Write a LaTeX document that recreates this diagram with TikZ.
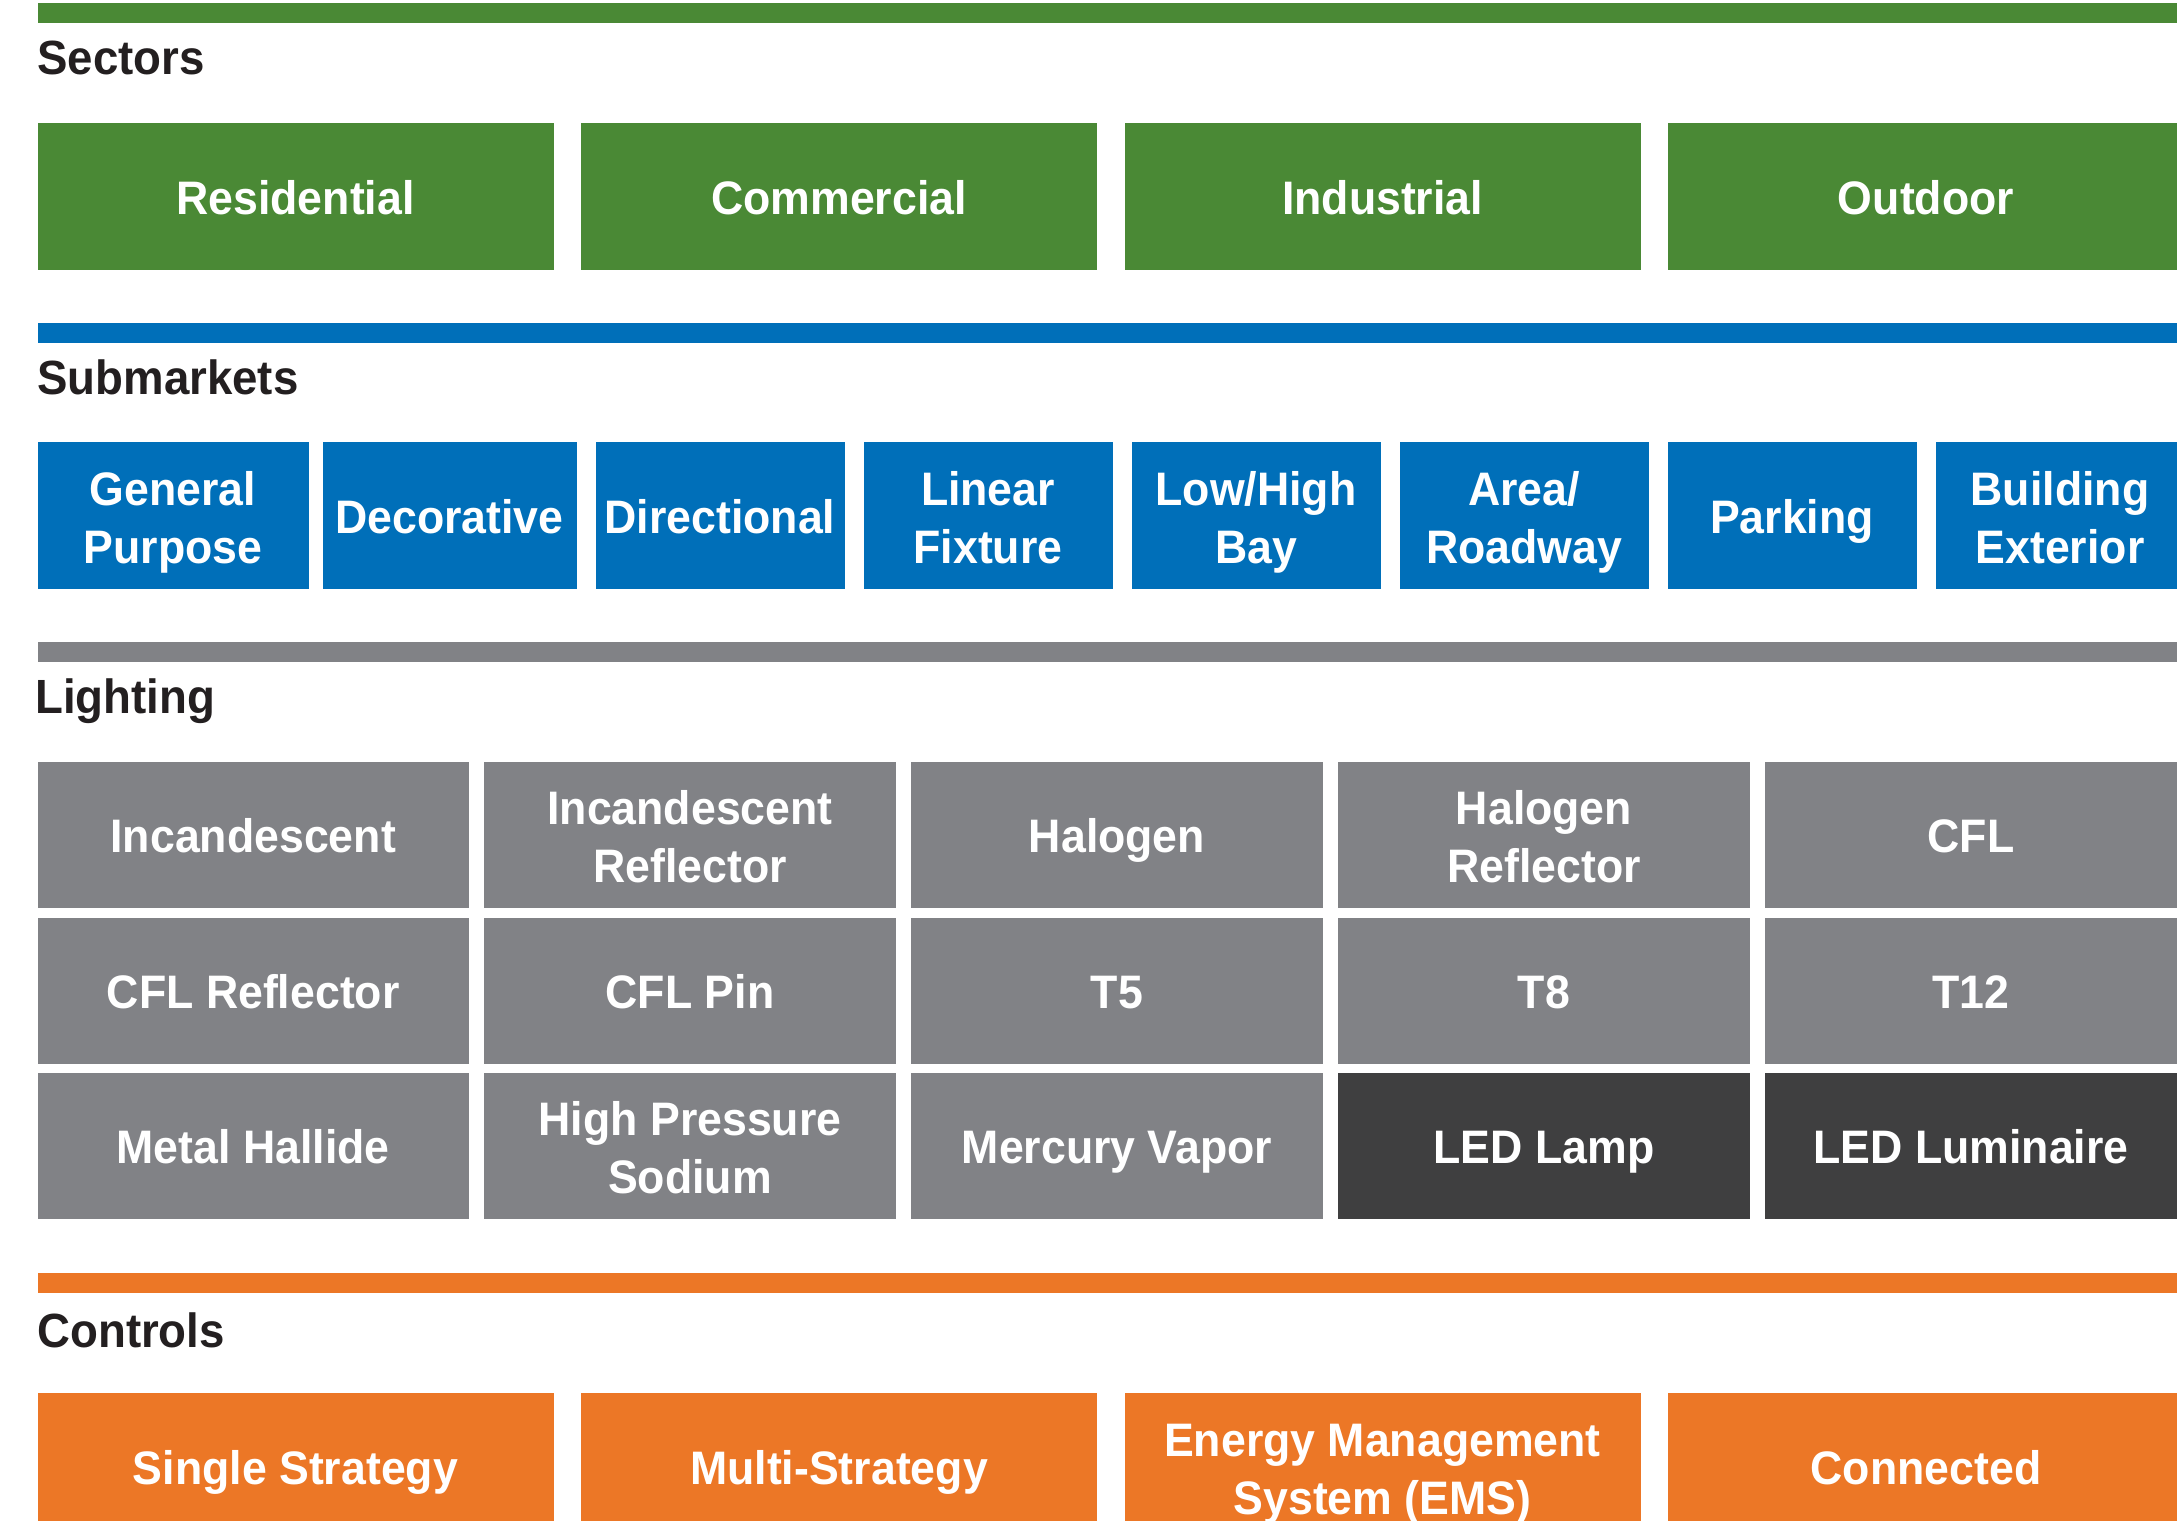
\documentclass[tikz,border=0pt]{standalone}
\usepackage{fontspec}
\usepackage{xcolor}
\usepackage{tikz}
\usetikzlibrary{positioning}
\newfontfamily\boxfont[FakeStretch=0.95]{Liberation Sans}
\definecolor{secgreen}{RGB}{74,137,53}
\definecolor{subblue}{RGB}{0,111,185}
\definecolor{lampgrey}{RGB}{129,130,134}
\definecolor{leddark}{RGB}{63,63,64}
\definecolor{ctrlorange}{RGB}{236,119,38}
\definecolor{ink}{RGB}{35,31,32}

\begin{document}
\begin{tikzpicture}[
  x=0.5pt, y=-0.5pt,
  head/.style={anchor=base west, inner sep=0pt, text=ink,
               font=\boxfont\bfseries\fontsize{24pt}{28pt}\selectfont},
  cell/.style={inner sep=0pt, outer sep=0pt, align=center, text=white,
               font=\boxfont\bfseries\fontsize{23.5pt}{29pt}\selectfont,
               text height=22.7pt, text depth=5.2pt},
  pair/.style={text height=52.7pt},
  sector/.style={cell, fill=secgreen, minimum width=258pt, minimum height=73.5pt},
  submkt/.style={cell, fill=subblue, minimum width=124.5pt, minimum height=73.5pt},
  lamp/.style={cell, fill=lampgrey, minimum width=206pt, minimum height=73pt},
  led/.style={lamp, fill=leddark},
  ctrl/.style={cell, fill=ctrlorange, minimum width=258pt, minimum height=73.5pt}]
\useasboundingbox (0,0) rectangle (2177,1520);
\clip (0,0) rectangle (2177,1520);

\fill[secgreen] (37.5,3) rectangle (2177,23);
\node[head] (sectors) at (37,75) {Sectors};
\node[sector, anchor=north west] (res) at (37.5,123) {Residential};
\node[sector, right=13.75pt of res] (com) {Commercial};
\node[sector, right=13.75pt of com] (ind) {Industrial};
\node[sector, right=13.75pt of ind] (out) {Outdoor};

\fill[subblue] (37.5,323) rectangle (2177,343);
\node[head] (submarkets) at (37,394) {Submarkets};
\node[submkt, pair, minimum width=135.5pt, anchor=north west] (gen) at (37.5,442) {General\\Purpose};
\node[submkt, minimum width=127pt, right=7pt of gen] (dec) {Decorative};
\node[submkt, right=9.5pt of dec]        (dir)  {Directional};
\node[submkt, pair, right=9.5pt of dir]  (lin)  {Linear\\Fixture};
\node[submkt, pair, right=9.5pt of lin]  (bay)  {Low/High\\Bay};
\node[submkt, pair, right=9.5pt of bay]  (area) {Area/\\Roadway};
\node[submkt, right=9.5pt of area]       (park) {Parking};
\node[submkt, pair, right=9.5pt of park] (bldg) {Building\\Exterior};

\fill[lampgrey] (37.5,642) rectangle (2177,662);
\node[head] (lighting) at (35,713) {Lighting};
\node[lamp, minimum width=215.75pt, anchor=north west] (inc) at (37.5,762) {Incandescent};
\node[lamp, pair, right=7.5pt of inc]  (incr) {Incandescent\\Reflector};
\node[lamp, right=7.5pt of incr]       (hal)  {Halogen};
\node[lamp, pair, right=7.5pt of hal]  (halr) {Halogen\\Reflector};
\node[lamp, right=7.5pt of halr]       (cfl)  {CFL};
\node[lamp, minimum width=215.75pt, below=4.75pt of inc] (cflr) {CFL Reflector};
\node[lamp, right=7.5pt of cflr]   (cflp)    {CFL Pin};
\node[lamp, right=7.5pt of cflp]   (tfive)   {T5};
\node[lamp, right=7.5pt of tfive]  (teight)  {T8};
\node[lamp, right=7.5pt of teight] (ttwelve) {T12};
\node[lamp, minimum width=215.75pt, below=4.75pt of cflr] (mh) {Metal Hallide};
\node[lamp, pair, right=7.5pt of mh] (hps)  {High Pressure\\Sodium};
\node[lamp, right=7.5pt of hps]      (mv)   {Mercury Vapor};
\node[led, right=7.5pt of mv]        (ledl) {LED Lamp};
\node[led, right=7.5pt of ledl]      (ledf) {LED Luminaire};

\fill[ctrlorange] (37.5,1273) rectangle (2177,1293);
\node[head] (controls) at (37,1347) {Controls};
\node[ctrl, anchor=north west] (single) at (37.5,1393) {Single Strategy};
\node[ctrl, right=13.75pt of single]     (multi) {Multi-Strategy};
\node[ctrl, pair, right=13.75pt of multi] (ems)  {Energy Management\\System (EMS)};
\node[ctrl, right=13.75pt of ems]        (conn)  {Connected};
\end{tikzpicture}
\end{document}
